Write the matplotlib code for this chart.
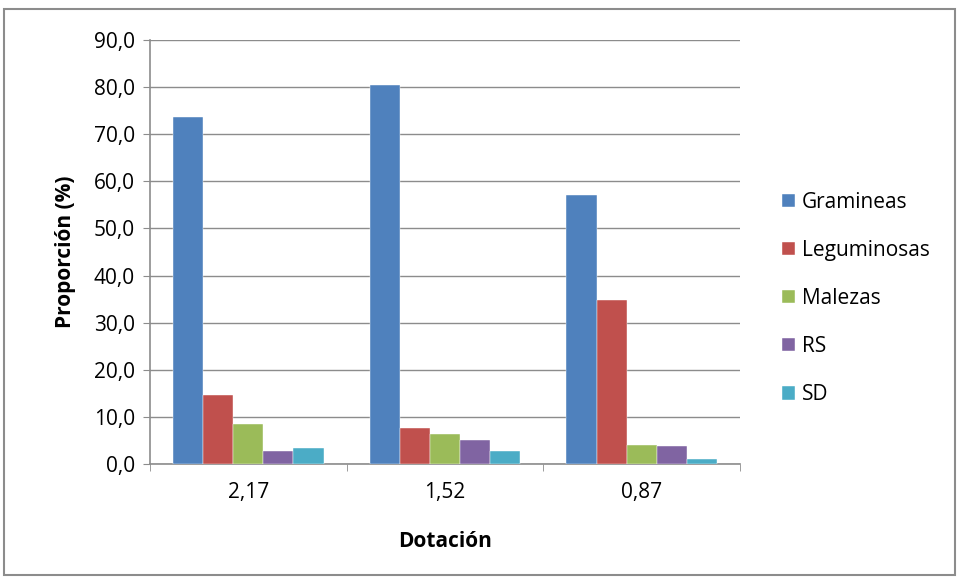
import numpy as np
import matplotlib.pyplot as plt
from matplotlib.patches import Rectangle
from matplotlib.ticker import FuncFormatter

plt.rcParams['font.family'] = ['Open Sans', 'DejaVu Sans']

categorias = ["2,17", "1,52", "0,87"]
gramineas = [73.6, 80.4, 57.1]
leguminosas = [14.7, 7.6, 34.9]
malezas = [8.5, 6.3, 4.1]
rs = [2.8, 5.2, 3.9]
sd = [3.3, 2.7, 1.1]

series = [gramineas, leguminosas, malezas, rs, sd]
nombres = ["Gramineas", "Leguminosas", "Malezas", "RS", "SD"]
colores = ["#4f81bd", "#c0504d", "#9bbb59", "#8064a2", "#4bacc6"]

fig = plt.figure(figsize=(9.59, 5.81), dpi=100)
fig.patches.append(Rectangle((4/959, 6/581), 951/959, 566/581, transform=fig.transFigure,
                             fill=False, edgecolor="#8c8c8c", linewidth=1.5))
ax = fig.add_axes([150/959, 1-464/581, 590/959, 424/581])

x = np.arange(len(categorias))
w = 0.153
for i, (vals, nom, col) in enumerate(zip(series, nombres, colores)):
    ax.bar(x + (i-2)*w, vals, width=w, color=col, label=nom, edgecolor="white", linewidth=0.3, zorder=3)

ax.set_xlim(-0.5, 2.5)
ax.set_ylim(0, 90)
ax.set_yticks(np.arange(0, 91, 10))
ax.yaxis.set_major_formatter(FuncFormatter(lambda v, p: f"{v:.1f}".replace(".", ",")))
ax.set_xticks(x)
ax.set_xticklabels(categorias)
ax.set_xticks([-0.5, 0.5, 1.5, 2.5], minor=True)
ax.tick_params(axis="x", which="major", length=0, pad=13, labelsize=15)
ax.tick_params(axis="x", which="minor", length=5, color="#8c8c8c")
ax.tick_params(axis="y", length=5, color="#8c8c8c", labelsize=15, pad=6)
ax.grid(axis="y", color="#8c8c8c", linewidth=1, zorder=0)

for s in ["top", "right"]:
    ax.spines[s].set_visible(False)
for s in ["left", "bottom"]:
    ax.spines[s].set_color("#8c8c8c")
    ax.spines[s].set_linewidth(1.2)

ax.set_ylabel("Proporción (%)", fontsize=15, fontweight="bold", labelpad=13)
ax.set_xlabel("Dotación", fontsize=15, fontweight="bold", labelpad=20)

ax.legend(loc="center left", bbox_to_anchor=(1.04, 0.39), frameon=False, fontsize=15,
          handlelength=0.6, handleheight=0.6, labelspacing=1.3, handletextpad=0.35)

fig.savefig("out.png", dpi=100)
